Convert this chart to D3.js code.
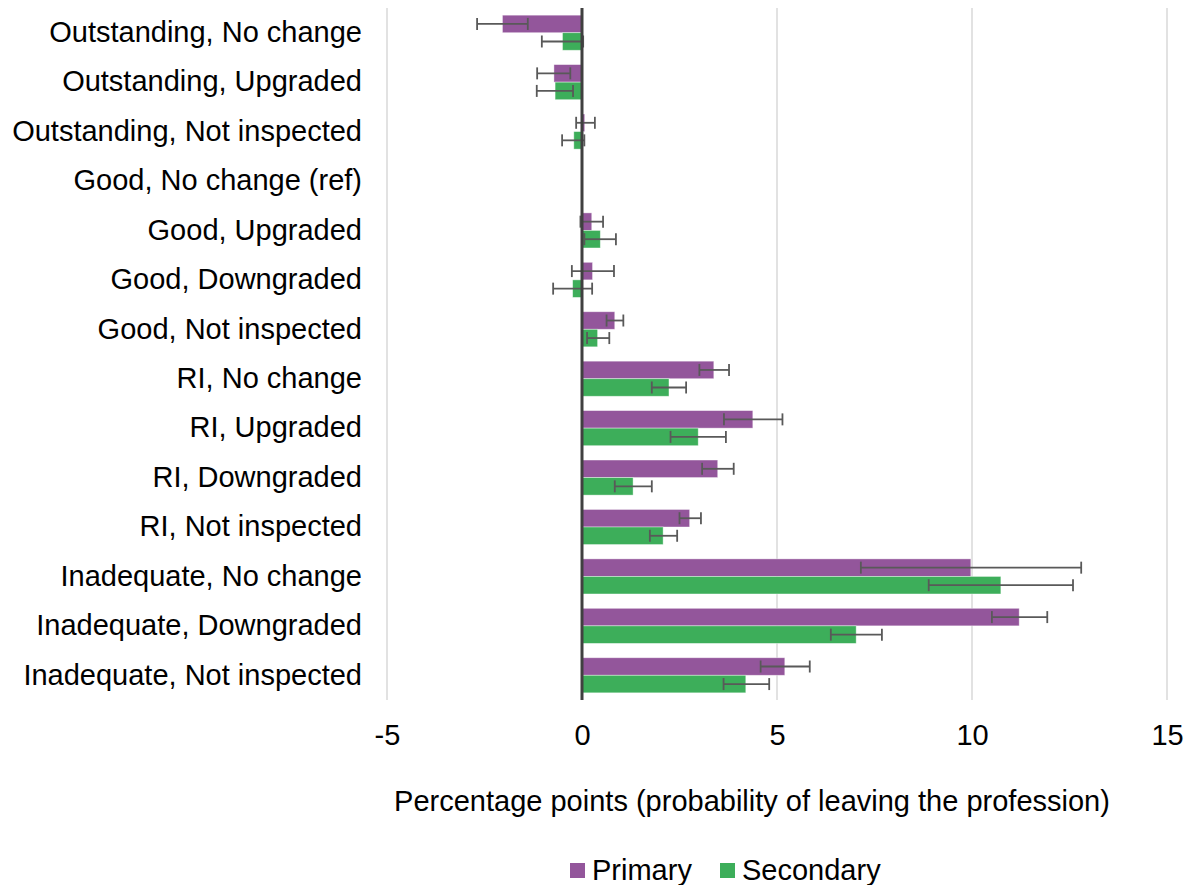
<!DOCTYPE html>
<html>
<head>
  <meta charset="utf-8">
  <script src="https://d3js.org/d3.v7.min.js"></script>
  <style>
    body { margin: 0; background: #fff; }
    text { font-family: "Liberation Sans", Arial, sans-serif; fill: #000; }
  </style>
</head>
<body>
<div id="chart"></div>
<script>
// categories (top to bottom)
const categories = [
  "Outstanding, No change", "Outstanding, Upgraded", "Outstanding, Not inspected",
  "Good, No change (ref)", "Good, Upgraded", "Good, Downgraded", "Good, Not inspected",
  "RI, No change", "RI, Upgraded", "RI, Downgraded", "RI, Not inspected",
  "Inadequate, No change", "Inadequate, Downgraded", "Inadequate, Not inspected"
];
const seriesNames = ["Primary", "Secondary"];

const primary    = [-2.04, -0.72, 0.07, 0, 0.25, 0.27, 0.84, 3.38, 4.38, 3.48, 2.76, 9.97, 11.21, 5.20];
const primaryLo  = [-2.69, -1.15, -0.15, null, -0.04, -0.26, 0.63, 3.01, 3.64, 3.08, 2.50, 7.15, 10.51, 4.58];
const primaryHi  = [-1.39, -0.30, 0.33, null, 0.54, 0.82, 1.06, 3.77, 5.14, 3.89, 3.05, 12.80, 11.93, 5.84];

const secondary   = [-0.50, -0.69, -0.21, 0, 0.47, -0.24, 0.40, 2.23, 2.98, 1.31, 2.08, 10.74, 7.03, 4.20];
const secondaryLo = [-1.03, -1.16, -0.51, null, 0.06, -0.74, 0.13, 1.79, 2.27, 0.84, 1.74, 8.89, 6.38, 3.63];
const secondaryHi = [0.03, -0.23, 0.06, null, 0.87, 0.26, 0.70, 2.67, 3.69, 1.79, 2.44, 12.59, 7.69, 4.80];

const xTicks = [-5, 0, 5, 10, 15];
const colors = ["#93569b", "#3dae5a"];

const W = 1188, H = 885;
const margin = { top: 8, right: 21, bottom: 185, left: 387 };
const width = W - margin.left - margin.right;
const height = H - margin.top - margin.bottom;
const fontSize = "29px";

const svg = d3.select("#chart").append("svg")
  .attr("width", W).attr("height", H);
const g = svg.append("g").attr("transform", `translate(${margin.left},${margin.top})`);

const x = d3.scaleLinear().domain([-5, 15]).range([0, width]);
const y = d3.scaleBand().domain(categories).range([0, height]).paddingInner(0.29).paddingOuter(0.145);
const sub = d3.scaleBand().domain(seriesNames).range([0, y.bandwidth()]);

// gridlines
g.selectAll(".grid").data(xTicks.filter(d => d !== 0)).enter().append("line")
  .attr("x1", d => x(d)).attr("x2", d => x(d))
  .attr("y1", 0).attr("y2", height)
  .attr("stroke", "#d9d9d9").attr("stroke-width", 1.5);

const rows = categories.map((c, i) => ({
  cat: c,
  vals: [
    { s: "Primary", v: primary[i], lo: primaryLo[i], hi: primaryHi[i] },
    { s: "Secondary", v: secondary[i], lo: secondaryLo[i], hi: secondaryHi[i] }
  ]
}));

const grp = g.selectAll(".cat").data(rows).enter().append("g")
  .attr("transform", d => `translate(0,${y(d.cat)})`);

grp.selectAll("rect").data(d => d.vals).enter().append("rect")
  .attr("x", d => x(Math.min(0, d.v)))
  .attr("width", d => Math.abs(x(d.v) - x(0)))
  .attr("y", d => sub(d.s))
  .attr("height", sub.bandwidth())
  .attr("fill", (d, i) => colors[i])
  .attr("stroke", "#fff").attr("stroke-opacity", 0.5).attr("stroke-width", 0.8);

// error bars
const eb = grp.selectAll(".err").data(d => d.vals.filter(v => v.lo !== null)).enter().append("g")
  .attr("transform", d => `translate(0,${sub(d.s) + sub.bandwidth() / 2})`);
eb.append("line")
  .attr("x1", d => x(d.lo)).attr("x2", d => x(d.hi))
  .attr("stroke", "#595959").attr("stroke-width", 1.8);
eb.append("line")
  .attr("x1", d => x(d.lo)).attr("x2", d => x(d.lo)).attr("y1", -6).attr("y2", 6)
  .attr("stroke", "#595959").attr("stroke-width", 1.8);
eb.append("line")
  .attr("x1", d => x(d.hi)).attr("x2", d => x(d.hi)).attr("y1", -6).attr("y2", 6)
  .attr("stroke", "#595959").attr("stroke-width", 1.8);

// zero axis line
g.append("line")
  .attr("x1", x(0)).attr("x2", x(0)).attr("y1", 0).attr("y2", height)
  .attr("stroke", "#404040").attr("stroke-width", 3);

// x axis labels
const xAxis = g.append("g").attr("transform", `translate(0,${height})`)
  .call(d3.axisBottom(x).tickValues(xTicks).tickSize(0).tickPadding(24).tickFormat(d => String(d)));
xAxis.select(".domain").remove();
xAxis.selectAll("text").style("font-size", fontSize).attr("font-family", "Liberation Sans, Arial, sans-serif");

// y labels
const yAxis = g.append("g")
  .call(d3.axisLeft(y).tickSize(0).tickPadding(25));
yAxis.select(".domain").remove();
yAxis.selectAll("text").style("font-size", fontSize).attr("font-family", "Liberation Sans, Arial, sans-serif");

// axis title
svg.append("text")
  .attr("x", 752).attr("y", 811)
  .attr("text-anchor", "middle").style("font-size", fontSize)
  .text("Percentage points (probability of leaving the profession)");

// legend
const legendX = [570, 720];
const leg = svg.selectAll(".leg").data(seriesNames).enter().append("g")
  .attr("transform", (d, i) => `translate(${legendX[i]},863)`);
leg.append("rect").attr("x", 0).attr("y", 0).attr("width", 15).attr("height", 15)
  .attr("fill", (d, i) => colors[i]);
leg.append("text").attr("x", 22).attr("y", 17).style("font-size", fontSize).text(d => d);
</script>
</body>
</html>
